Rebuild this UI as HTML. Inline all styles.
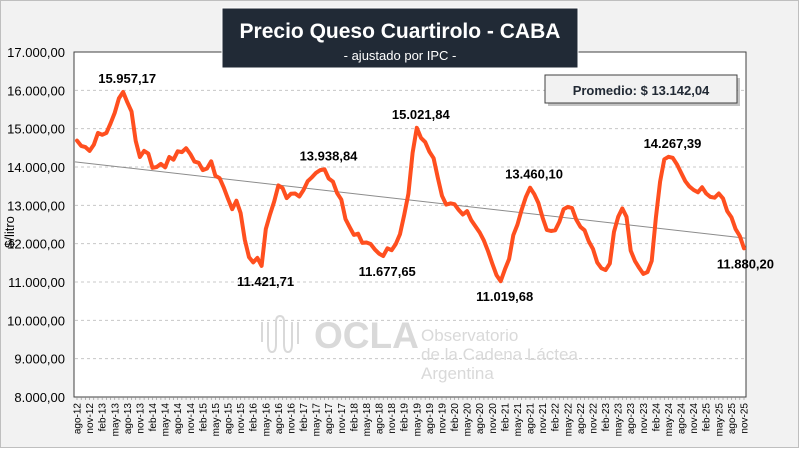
<!DOCTYPE html>
<html><head><meta charset="utf-8"><style>
html,body{margin:0;padding:0;background:#fff;}
svg{display:block;font-family:"Liberation Sans",sans-serif;}
</style></head><body>
<svg id="chart" width="800" height="449" viewBox="0 0 800 449">
<rect x="0.5" y="0.5" width="798" height="447" fill="#f2f2f2" stroke="#bfbfbf"/>
<rect x="74" y="52" width="672" height="345" fill="#ffffff" stroke="#404040" stroke-width="1"/>
<g id="grid"></g>
<g id="watermark" fill="#d9d9d9">
  <path d="M262 322 v20 M268 322 v22 q0 8 4 8 t4 -8 v-22 q0 -6 4 -6 t4 6 v22 q0 8 4 8 t4 -8 v-22 M298 322 v22" stroke="#d9d9d9" stroke-width="2" fill="none"/>
  <text x="314" y="348" font-size="37" font-weight="bold">OCLA</text>
  <text x="421" y="341" font-size="17">Observatorio</text>
  <text x="421" y="360" font-size="17">de la Cadena Láctea</text>
  <text x="421" y="379" font-size="17">Argentina</text>
</g>
<g id="yaxis"></g>
<g id="xaxis"></g>
<g id="series"></g>
<g id="labels"></g>
<text transform="translate(14,232) rotate(-90)" text-anchor="middle" font-size="13" fill="#000">$/litro</text>
<g>
  <rect x="222" y="8" width="356" height="60" fill="#212a36" stroke="#ffffff" stroke-width="1"/>
  <text x="400" y="38" text-anchor="middle" font-size="21" font-weight="bold" fill="#fff">Precio Queso Cuartirolo - CABA</text>
  <text x="400" y="60" text-anchor="middle" font-size="13" fill="#fff">- ajustado por IPC -</text>
</g>
<g>
  <rect x="548" y="78" width="192" height="28" fill="#888" opacity="0.5"/>
  <rect x="545" y="75" width="192" height="28" fill="#f2f2f2" stroke="#404040"/>
  <text x="641" y="95" text-anchor="middle" font-size="13" font-weight="bold" fill="#222a35">Promedio: $ 13.142,04</text>
</g>
</svg>
<script>
const months=["ene","feb","mar","abr","may","jun","jul","ago","sep","oct","nov","dic"];
const values=[14690,14550,14520,14420,14580,14890,14840,14890,15140,15420,15790,15957,15690,15450,14680,14260,14420,14350,13980,14000,
14080,13990,14260,14190,14410,14390,14490,14340,14140,14110,13920,13960,14150,13770,13710,13460,13170,12900,13120,12800,
12100,11650,11510,11630,11421,12380,12760,13100,13520,13450,13190,13300,13310,13230,13400,13630,13730,13850,13920,13939,
13700,13620,13320,13150,12640,12430,12230,12260,12020,12030,11990,11850,11740,11678,11880,11830,11990,12250,12750,13300,
14370,15022,14760,14650,14400,14230,13720,13250,13020,13050,13030,12880,12760,12850,12610,12450,12290,12080,11800,11480,
11180,11020,11330,11600,12220,12500,12890,13220,13460,13290,13060,12680,12360,12330,12350,12570,12900,12960,12930,12630,
12440,12350,12060,11860,11510,11360,11310,11480,12310,12700,12920,12700,11820,11550,11370,11210,11260,11550,12680,13620,
14200,14267,14240,14070,13850,13630,13490,13400,13340,13470,13310,13220,13200,13310,13180,12850,12690,12380,12200,11880];
const yTicks=[8000,9000,10000,11000,12000,13000,14000,15000,16000,17000];
const yTickLabels=["8.000,00","9.000,00","10.000,00","11.000,00","12.000,00","13.000,00","14.000,00","15.000,00","16.000,00","17.000,00"];
const labelIdx=[11,44,59,73,81,101,108,141,159];
const labelText=["15.957,17","11.421,71","13.938,84","11.677,65","15.021,84","11.019,68","13.460,10","14.267,39","11.880,20"];
const labelPos=["above","below","above","below","above","below","above","above","below"];

const NS="http://www.w3.org/2000/svg";
const X0=77,X1=744,Y0=397,Y1=52,VMIN=8000,VMAX=17000;
const n=values.length;
function xs(i){return X0+i*(X1-X0)/(n-1);}
function ys(v){return Y0-(v-VMIN)/(VMAX-VMIN)*(Y0-Y1);}
function mk(tag,attrs,parent){const e=document.createElementNS(NS,tag);for(const k in attrs)e.setAttribute(k,attrs[k]);parent.appendChild(e);return e;}

const grid=document.getElementById('grid'),yax=document.getElementById('yaxis'),xax=document.getElementById('xaxis');
yTicks.forEach((t,k)=>{
  if(t>VMIN&&t<VMAX){const l=mk('line',{x1:75,x2:745,y1:ys(t),y2:ys(t),stroke:'#c8c8c8','stroke-dasharray':'3,3'},grid);
  
  }
  const tx=mk('text',{x:65,y:ys(t)+5,'text-anchor':'end','font-size':'13',fill:'#000'},yax);
  tx.textContent=yTickLabels[k];
  
  
});
for(let i=0;i<n;i++){
  mk('line',{x1:xs(i),x2:xs(i),y1:397,y2:400,stroke:'#888','stroke-width':'0.6'},xax);
  const m=(7+i)%12;
  if(i%3===0){
    const yr=12+Math.floor((7+i)/12);
    const tx=mk('text',{transform:`translate(${xs(i)+3.5},403) rotate(-90)`,'text-anchor':'end','font-size':'10',fill:'#000'},xax);
    tx.textContent=months[m]+'-'+yr;
    
    
  }
}
let sx=0,sy=0,sxx=0,sxy=0;
values.forEach((v,i)=>{sx+=i;sy+=v;sxx+=i*i;sxy+=i*v;});
const b=(n*sxy-sx*sy)/(n*sxx-sx*sx),a=(sy-b*sx)/n;
const series=document.getElementById('series');
const tr=mk('line',{x1:75,y1:ys(a+b*((75-X0)/(X1-X0)*(n-1))),x2:746,y2:ys(a+b*((746-X0)/(X1-X0)*(n-1))),stroke:'#8c8c8c','stroke-width':'1'},series);


const p=mk('polyline',{points:values.map((v,i)=>xs(i).toFixed(1)+','+ys(v).toFixed(1)).join(' '),fill:'none',stroke:'#ff4f1f','stroke-width':'4','stroke-linejoin':'round','stroke-linecap':'round'},series);


const lg=document.getElementById('labels');
labelIdx.forEach((idx,k)=>{
  const x=xs(idx);const y=ys(values[idx]);
  const ty=labelPos[k]==='above'?y-9:y+20;
  const tx=mk('text',{x:idx===n-1?x+30:x+4,y:ty,'text-anchor':idx===n-1?'end':'middle','font-size':'13','font-weight':'bold',fill:'#000'},lg);
  tx.textContent=labelText[k];
  
  
});
</script>
</body></html>
